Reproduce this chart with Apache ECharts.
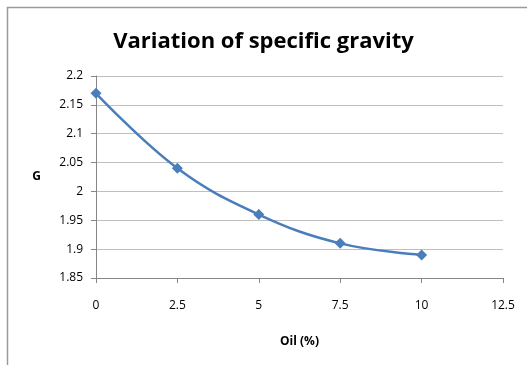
<!DOCTYPE html>
<html>
<head>
<meta charset="utf-8">
<script src="https://cdn.jsdelivr.net/npm/echarts@6/dist/echarts.min.js"></script>
<style>
  html, body { margin: 0; padding: 0; background: #fff; }
  #chart { width: 527px; height: 365px; }
</style>
</head>
<body>
<div id="chart"></div>
<script>
var oilPct = [0, 2.5, 5, 7.5, 10];
var gravity = [2.17, 2.04, 1.96, 1.91, 1.89];

var myChart = echarts.init(document.getElementById('chart'));
var font = '"Open Sans", "Liberation Sans", sans-serif';

var options = {
  animation: false,
  title: {
    text: 'Variation of specific gravity',
    left: 'center',
    top: 26,
    textStyle: { fontFamily: font, fontSize: 22, fontWeight: 'bold', color: '#000' }
  },
  graphic: [{
    type: 'rect',
    shape: { x: 7.5, y: 7.5, width: 560, height: 400 },
    style: { fill: 'none', stroke: '#9a9a9a', lineWidth: 1.5 },
    silent: true
  }],
  grid: { left: 96, top: 76, right: 24, bottom: 87 },
  xAxis: {
    type: 'value',
    min: 0, max: 12.5, interval: 2.5,
    name: 'Oil (%)',
    nameLocation: 'middle',
    nameGap: 58,
    nameTextStyle: { fontFamily: font, fontSize: 12, fontWeight: 'bold', color: '#000' },
    axisLine: { lineStyle: { color: '#868686' } },
    axisTick: { show: true, length: 5, lineStyle: { color: '#868686' } },
    axisLabel: { fontFamily: font, fontSize: 12, color: '#000', margin: 22 },
    splitLine: { show: false }
  },
  yAxis: {
    type: 'value',
    min: 1.85, max: 2.2, interval: 0.05,
    name: 'G',
    nameLocation: 'middle',
    nameRotate: 0,
    nameGap: 55,
    nameTextStyle: { fontFamily: font, fontSize: 12, fontWeight: 'bold', color: '#000', padding: [14, 0, 0, 0] },
    axisLine: { show: true, lineStyle: { color: '#868686' } },
    axisTick: { show: true, length: 5, lineStyle: { color: '#868686' } },
    axisLabel: {
      fontFamily: font, fontSize: 12, color: '#000', margin: 13,
      formatter: function (v) { return String(parseFloat(v.toFixed(2))); }
    },
    splitLine: { show: true, lineStyle: { color: '#bfbfbf', width: 1 } }
  },
  series: [{
    type: 'line',
    data: oilPct.map(function (x, i) { return [x, gravity[i]]; }),
    smooth: 0.4,
    symbol: 'diamond',
    symbolSize: 11,
    lineStyle: { color: '#4a7ebb', width: 2.5 },
    itemStyle: { color: '#4a7ebb' }
  }]
};

myChart.setOption(options);
</script>
</body>
</html>
